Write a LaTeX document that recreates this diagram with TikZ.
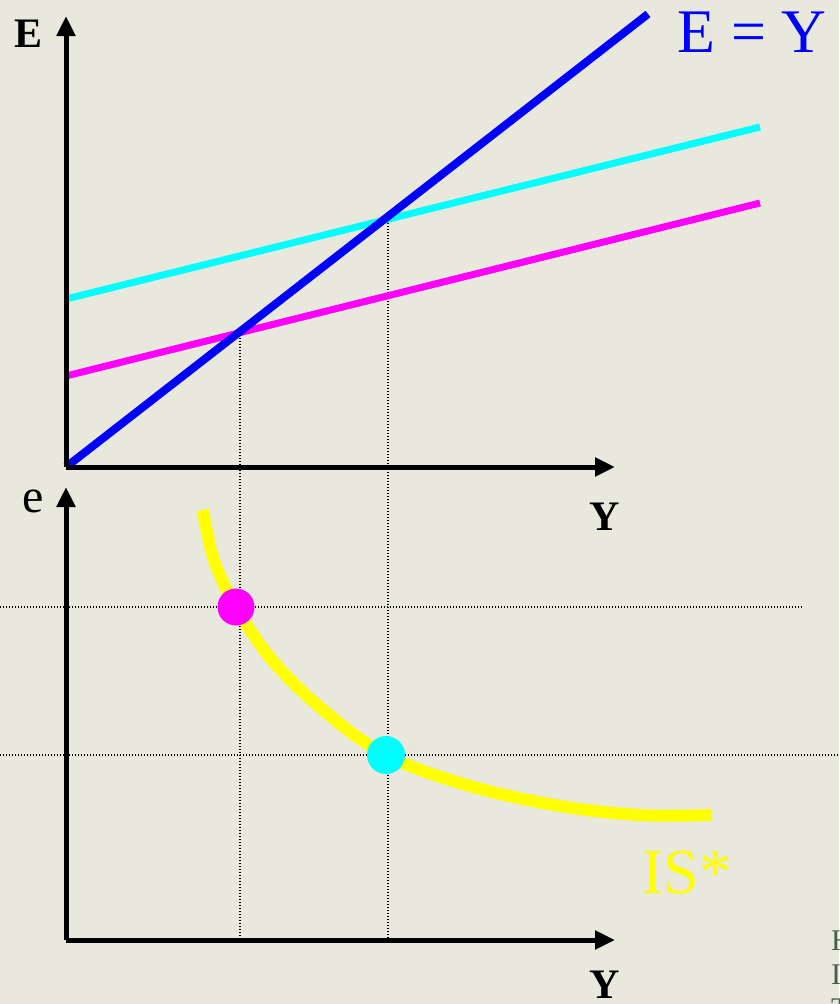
\documentclass[tikz,border=0pt]{standalone}
\usepackage{fontspec}
\setmainfont{Liberation Serif}
\usetikzlibrary{arrows.meta}

\definecolor{paper}{RGB}{232,232,220}
\definecolor{notegreen}{RGB}{70,95,75}
\definecolor{lineCyan}{RGB}{0,255,255}
\definecolor{lineMagenta}{RGB}{255,0,255}
\definecolor{lineBlue}{RGB}{0,0,255}
\definecolor{lineYellow}{RGB}{255,255,0}

\tikzset{
  axis/.style={line width=5pt, -{Triangle[length=20pt,width=18pt]}},
  guide/.style={line width=1.5pt, dash pattern=on 1.4pt off 1.6pt},
  curve/.style={line width=7pt},
}

\begin{document}
\begin{tikzpicture}[x=1pt,y=-1pt]
            \fill[paper] (0,0) rectangle (839,1004);
            \useasboundingbox (0,0) rectangle (839,1004);

            % upper panel: expenditure lines
            \coordinate (O1) at (66,467);
            \coordinate (A) at (240,332);
            \coordinate (B) at (388,217);
            \coordinate (O2) at (66,940);

            \draw[guide] (A)--(A |- O2);
            \draw[guide] (B)--(B |- O2);

            \draw[curve, lineCyan] (66,299)--(760,127);
            \draw[curve, lineMagenta] (66,376)--(760,203);
            \draw[line width=8pt, lineBlue] (O1)--(648,14);

            \draw[axis] (O1)--(615,467) coordinate (x1);
            \draw[axis] (O1)--(66,16) coordinate (y1);
            \node[font=\fontsize{42}{44}\selectfont\bfseries, anchor=base] (lblE) at (29,47) {E};
            \node[font=\fontsize{42}{44}\selectfont\bfseries, anchor=base] (lblY1) at (605,530) {Y};
            \node[lineBlue, font=\fontsize{62}{64}\selectfont, anchor=base] (lblEY) at (752,52) {E = Y};

            % lower panel: IS* curve
            \draw[guide] (0,607)--(803,607);
            \draw[guide] (0,755)--(839,755);

            \draw[line width=12pt, lineYellow] plot[smooth, tension=0.6] coordinates
              {(203,510) (214,560) (236,607) (272,660) (322,709) (386,755) (470,786) (560,806) (640,815) (712,815)};

            \fill[lineMagenta] (236,607) circle (18.5pt);
            \fill[lineCyan] (386,755) circle (19pt);

            \draw[axis] (O2)--(615,940) coordinate (x2);
            \draw[axis] (O2)--(66,487) coordinate (y2);
            \node[font=\fontsize{48}{50}\selectfont, anchor=base] (lble) at (33,512) {e};
            \node[font=\fontsize{42}{44}\selectfont\bfseries, anchor=base] (lblY2) at (605,998) {Y};
            \node[lineYellow, font=\fontsize{64}{66}\selectfont, anchor=base west, inner sep=0pt] (lblIS) at (642,893) {IS*};

            % cut-off note at the corner
            \node[notegreen, font=\fontsize{30}{32}\selectfont, anchor=base west, inner sep=0pt] (n1) at (831,950) {H};
            \node[notegreen, font=\fontsize{30}{32}\selectfont, anchor=base west, inner sep=0pt] (n2) at (831,984) {I};
            \node[notegreen, font=\fontsize{30}{32}\selectfont, anchor=base west, inner sep=0pt] (n3) at (831,1018) {T};
        \end{tikzpicture}
\end{document}
